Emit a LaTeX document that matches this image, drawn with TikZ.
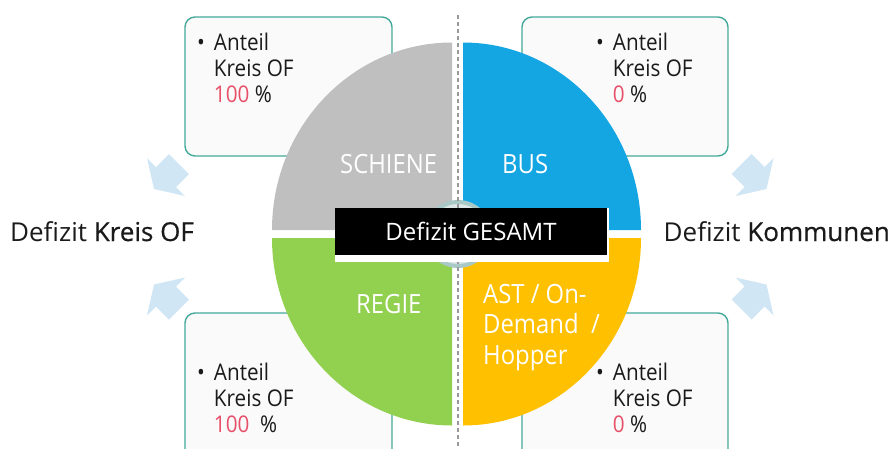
\documentclass[tikz,border=0pt]{standalone}
\usepackage{fontspec}
\setmainfont[FakeStretch=0.9]{Open Sans}
\newfontfamily\sidefont{Open Sans}
\newfontfamily\sidebold[FakeBold=0.6]{Open Sans}
\definecolor{qgray}{HTML}{BFBFBF}
\definecolor{qblue}{HTML}{14A6E3}
\definecolor{qgreen}{HTML}{92D050}
\definecolor{qorange}{HTML}{FFC000}
\definecolor{boxline}{HTML}{45A99A}
\definecolor{boxfill}{HTML}{FAFAFA}
\definecolor{arrowblue}{HTML}{D0E6F5}
\definecolor{numred}{HTML}{E8506A}
\definecolor{ringc}{HTML}{A9C9C6}
\definecolor{ringfill}{HTML}{DCE8E7}
\definecolor{txt}{HTML}{1A1A1A}
\tikzset{
  infobox/.style={draw=boxline, line width=1.4pt, fill=boxfill, rounded corners=10pt},
  boxtext/.style={anchor=base west, inner sep=0pt, text=txt, font=\fontsize{23}{26}\selectfont},
  pielabel/.style={anchor=base west, inner sep=0pt, text=white, align=left, font=\fontsize{26.5}{30.5}\selectfont},
  sidelabel/.style={anchor=base west, inner sep=0pt, text=txt, font=\sidefont\fontsize{26}{30}\selectfont},
  blockarrow/.style={fill=arrowblue},
}
\newcommand{\anteil}[1]{\begin{tabular}[t]{@{}l@{\hspace{9pt}}l@{}}\textbullet & Anteil\\ & Kreis OF\\ & #1\end{tabular}}
\begin{document}
\begin{tikzpicture}[x=1pt,y=-1pt]
\useasboundingbox (0,0) rectangle (894,448);
% info boxes
\draw[infobox] (185,17) rectangle (392,156);
\draw[infobox] (522,17) rectangle (728,156);
\draw[infobox] (185,313) rectangle (392,470);
\draw[infobox] (522,313) rectangle (728,470);
\node[boxtext] (tl) at (197,50) {\anteil{{\color{numred}100} \%}};
\node[boxtext] (tr) at (596,50) {\anteil{{\color{numred}0} \%}};
\node[boxtext] (bl) at (197,380) {\anteil{{\color{numred}100}\ \ \%}};
\node[boxtext] (br) at (596,380) {\anteil{{\color{numred}0} \%}};
% arrows
\fill[blockarrow] (154,189) -- (185,196) -- (176,187) -- (189,174) -- (169,154) -- (156,167) -- (147,158) -- cycle;
\fill[blockarrow] (154,284.5) -- (185,277.5) -- (176,286.5) -- (189,299.5) -- (169,319.5) -- (156,306.5) -- (147,315.5) -- cycle;
\fill[blockarrow] (766.5,189) -- (735.5,196) -- (744.5,187) -- (731.5,174) -- (751.5,154) -- (764.5,167) -- (773.5,158) -- cycle;
\fill[blockarrow] (766.5,284.5) -- (735.5,277.5) -- (744.5,286.5) -- (731.5,299.5) -- (751.5,319.5) -- (764.5,306.5) -- (773.5,315.5) -- cycle;
% pie quadrants
\fill[qgray] (452,230) -- (452,42.5) arc[start angle=270, end angle=180, x radius=180, y radius=187.5] -- cycle;
\fill[qblue] (463,230) -- (463,42.5) arc[start angle=270, end angle=360, x radius=178, y radius=187.5] -- cycle;
\fill[qgreen] (452,238) -- (272,238) arc[start angle=180, end angle=90, x radius=180, y radius=187.5] -- cycle;
\fill[qorange] (463,238) -- (641,238) arc[start angle=0, end angle=90, x radius=178, y radius=187.5] -- cycle;
% centre ring
\draw[ringc, fill=ringfill, line width=4pt] (458,234) circle[radius=32];
% dashed divider
\draw[color=black!40, line width=1.3pt, dash pattern=on 4pt off 3pt] (458,15) -- (458,448);
% central label
\fill[white] (335,208) rectangle (609,262);
\node[fill=black, minimum width=272pt, minimum height=47pt, inner sep=0pt, text=white, font=\sidefont\fontsize{24}{28}\selectfont] (gesamt) at (471,231.5) {Defizit GESAMT};
% pie labels
\node[pielabel] (schiene) at (340,173) {SCHIENE};
\node[pielabel] (bus) at (502,173) {BUS};
\node[pielabel] (regie) at (356,313) {REGIE};
\node[pielabel] (ast) at (483,364) {AST / On-\\Demand\ \ /\\Hopper};
% side labels
\node[sidelabel] (kreis) at (10,241) {Defizit {\sidebold Kreis OF}};
\node[sidelabel, anchor=base east] (komm) at (890,241) {Defizit {\sidebold Kommunen}};
\end{tikzpicture}
\end{document}
